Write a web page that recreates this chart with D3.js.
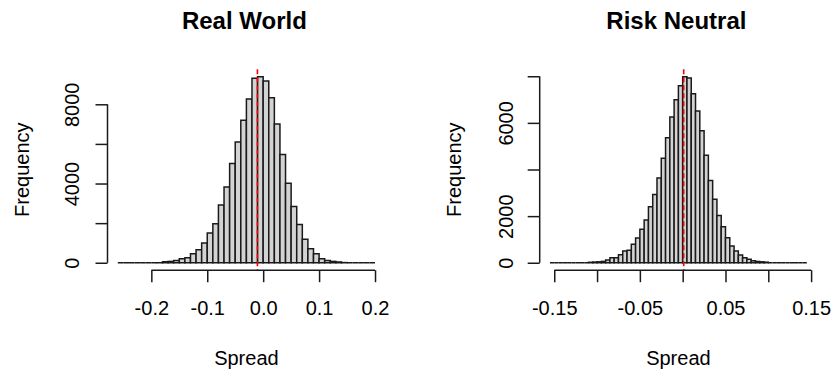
<!DOCTYPE html>
<html>
<head>
<meta charset="utf-8">
<script src="https://cdn.jsdelivr.net/npm/d3@7/dist/d3.min.js"></script>
<style>
  html, body { margin: 0; padding: 0; background: #fff; }
  svg { display: block; font-family: "Liberation Sans", Arial, sans-serif; }
  .tick text, .lab { fill: #000; font-size: 20px; }
  .title { font-size: 24px; font-weight: bold; fill: #000; }
</style>
</head>
<body>
<svg id="chart" width="831" height="371"></svg>
<script>
// Real-world simulation: bins of width 0.01 from -0.26 to 0.20
const realBreakStart = -0.26;
const realBinWidth = 0.01;
const realCounts = [
  0, 0, 0, 0, 0, 0, 0, 2,          // -0.26 .. -0.19
  50, 68, 118, 203, 254, 457, 660, 999, 1507, 1964,   // -0.18 .. -0.09
  2912, 3826, 5011, 6095, 7195, 8262, 9312, 9396,    // -0.08 .. -0.01
  9176, 8330, 7009, 5468, 4012, 2844, 1930, 1185, 711, 457,  // 0.00 .. 0.09
  203, 118, 68, 40, 8, 0, 0, 0, 0, 0                 // 0.10 .. 0.19
];
const realXTicks = [-0.2, -0.1, 0.0, 0.1, 0.2];
const realXLabels = ["-0.2", "-0.1", "0.0", "0.1", "0.2"];
const realYTicks = [0, 2000, 4000, 6000, 8000];
const realYLabels = ["0", "", "4000", "", "8000"];
const realMarker = -0.0103;

// Risk-neutral simulation: bins of width 0.005 from -0.155 to 0.145
const rnBreakStart = -0.155;
const rnBinWidth = 0.005;
const rnCounts = [
  0, 0, 0, 0, 0, 0, 0, 0, 0,                 // -0.155 .. -0.115
  20, 30, 40, 58, 115, 216, 216, 346, 504, 533,  // -0.110 .. -0.065
  793, 1066, 1441, 1830, 2406, 2925, 3631, 4482, 5360, 6254, // -0.060 .. -0.015
  6989, 7594,                                // -0.010 .. -0.005
  7983, 7925, 7248, 6513, 5663, 4611, 3530, 2723, 2025, 1540, // 0.000 .. 0.045
  1075, 720, 504, 330, 216, 150, 85, 55, 40, 25,             // 0.050 .. 0.095
  0, 0, 0, 0, 0, 0, 0, 0, 0                   // 0.100 .. 0.140
];
const rnXTicks = [-0.15, -0.10, -0.05, 0.0, 0.05, 0.10, 0.15];
const rnXLabels = ["-0.15", "", "-0.05", "", "0.05", "", "0.15"];
const rnYTicks = [0, 2000, 4000, 6000, 8000];
const rnYLabels = ["0", "2000", "", "6000", ""];
const rnMarker = 0.0012;

const svg = d3.select("#chart");
const ink = "#1a1a1a";

function histogram(cfg) {
  const n = cfg.counts.length;
  const lo = cfg.breakStart, hi = cfg.breakStart + n * cfg.binWidth;
  const pad = (hi - lo) * 0.04;
  const maxC = d3.max(cfg.counts);

  const x = d3.scaleLinear().domain([lo - pad, hi + pad]).range([cfg.left, cfg.right]);
  const y = d3.scaleLinear().domain([-0.04 * maxC, 1.04 * maxC]).range([cfg.bottom, cfg.top]);

  const g = svg.append("g");

  // bars (zero-count bins collapse to a flat outline along the baseline)
  const bins = cfg.counts.map((c, i) => ({
    x0: lo + i * cfg.binWidth,
    x1: lo + (i + 1) * cfg.binWidth,
    c
  }));
  g.append("g").selectAll("path").data(bins).join("path")
    .attr("d", d => {
      const a = x(d.x0), b = x(d.x1), y0 = y(0), y1 = y(d.c);
      return `M${a},${y0}L${a},${y1}L${b},${y1}L${b},${y0}Z`;
    })
    .attr("fill", "#d3d3d3")
    .attr("stroke", ink)
    .attr("stroke-width", 1.5)
    .attr("stroke-linejoin", "miter");

  // marker line
  g.append("line")
    .attr("x1", x(cfg.marker)).attr("x2", x(cfg.marker))
    .attr("y1", cfg.top).attr("y2", cfg.bottom)
    .attr("stroke", "#ff0000")
    .attr("stroke-width", 1.6)
    .attr("stroke-dasharray", "5,3");

  // x axis
  const xa = g.append("g")
    .attr("transform", `translate(0,${cfg.bottom})`)
    .call(d3.axisBottom(x).tickValues(cfg.xTicks).tickSize(12).tickSizeOuter(0)
      .tickFormat((d, i) => cfg.xLabels[i]));
  xa.select(".domain")
    .attr("d", `M${x(cfg.xTicks[0])},0H${x(cfg.xTicks[cfg.xTicks.length - 1])}`);
  xa.selectAll(".tick text").attr("y", 45).attr("dy", null);

  // y axis
  const ya = g.append("g")
    .attr("transform", `translate(${cfg.left},0)`)
    .call(d3.axisLeft(y).tickValues(cfg.yTicks).tickSize(12).tickSizeOuter(0)
      .tickFormat((d, i) => cfg.yLabels[i]));
  ya.select(".domain")
    .attr("d", `M0,${y(cfg.yTicks[0])}V${y(cfg.yTicks[cfg.yTicks.length - 1])}`);
  ya.selectAll(".tick text")
    .attr("x", null).attr("dy", null)
    .attr("text-anchor", "middle")
    .attr("transform", `translate(${-cfg.yLabelOffset},0) rotate(-90)`);

  g.selectAll(".domain, .tick line").attr("stroke", ink).attr("stroke-width", 1.5);
  g.selectAll(".tick text").attr("font-size", 20).attr("font-family", null);

  const cx = (cfg.left + cfg.right) / 2;
  g.append("text").attr("class", "title")
    .attr("x", cx - 2).attr("y", 29).attr("text-anchor", "middle").text(cfg.title);
  g.append("text").attr("class", "lab")
    .attr("x", cx).attr("y", 365).attr("text-anchor", "middle").text("Spread");
  g.append("text").attr("class", "lab")
    .attr("transform", `translate(${cfg.left - 79},${(cfg.top + cfg.bottom) / 2}) rotate(-90)`)
    .attr("text-anchor", "middle").text("Frequency");
}

histogram({
  title: "Real World",
  counts: realCounts, breakStart: realBreakStart, binWidth: realBinWidth,
  xTicks: realXTicks, xLabels: realXLabels,
  yTicks: realYTicks, yLabels: realYLabels,
  marker: realMarker,
  left: 107.5, right: 385.3, top: 69.2, bottom: 270.2, yLabelOffset: 29
});

histogram({
  title: "Risk Neutral",
  counts: rnCounts, breakStart: rnBreakStart, binWidth: rnBinWidth,
  xTicks: rnXTicks, xLabels: rnXLabels,
  yTicks: rnYTicks, yLabels: rnYLabels,
  marker: rnMarker,
  left: 539.7, right: 817.1, top: 69.2, bottom: 270.2, yLabelOffset: 27
});
</script>
</body>
</html>
